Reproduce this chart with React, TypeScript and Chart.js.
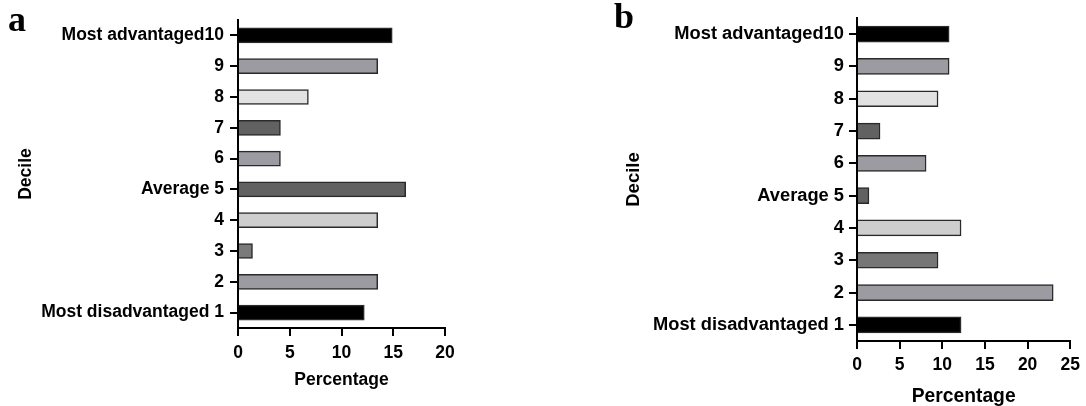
import React, { useEffect, useRef } from "react";
import { Chart, registerables } from "chart.js";

Chart.register(...registerables);

// Deciles, bottom (1) to top (10)
const deciles = [
  "Most disadvantaged 1",
  "2",
  "3",
  "4",
  "Average 5",
  "6",
  "7",
  "8",
  "9",
  "Most advantaged10",
];

const percentA = [12.2, 13.5, 1.4, 13.5, 16.2, 4.1, 4.1, 6.8, 13.5, 14.9];
const percentB = [12.2, 23.0, 9.5, 12.2, 1.4, 8.1, 2.7, 9.5, 10.8, 10.8];

const colorsA = ["#000000", "#9b9ba1", "#7a7a7a", "#cecece", "#616161", "#9b9ba1", "#616161", "#e2e2e2", "#9b9ba1", "#000000"];
const colorsB = ["#000000", "#9b9ba1", "#767676", "#cecece", "#616161", "#9b9ba1", "#616161", "#e2e2e2", "#9b9ba1", "#000000"];

const xMaxA = 20;
const xMaxB = 25;
const xStep = 5;

const FAMILY = "'Liberation Sans', Arial, Helvetica, sans-serif";

type PanelCfg = {
  values: number[];
  colors: string[];
  xMax: number;
  yWidth: number;
  xHeight: number;
  padTop: number;
  padRight: number;
  yTickSize: number;
  xTickSize: number;
  yTitleSize: number;
  yTitlePad: number;
  xTitleSize: number;
  xTitlePad: number;
  xTickPad: number;
  yTickPad: number;
  barThickness: number;
};

function Panel({ cfg, left, width }: { cfg: PanelCfg; left: number; width: number }) {
  const ref = useRef<HTMLCanvasElement | null>(null);
  useEffect(() => {
    if (!ref.current) return;
    const chart = new Chart(ref.current, {
      type: "bar",
      data: {
        labels: deciles,
        datasets: [
          {
            data: cfg.values,
            backgroundColor: cfg.colors,
            borderColor: "#2a2a2a",
            borderWidth: 1.5,
            barThickness: cfg.barThickness,
          },
        ],
      },
      options: {
        indexAxis: "y",
        responsive: false,
        animation: false,
        layout: { padding: { top: cfg.padTop, right: cfg.padRight, left: 0, bottom: 0 } },
        plugins: { legend: { display: false }, tooltip: { enabled: false } },
        scales: {
          y: {
            type: "category",
            reverse: true,
            offset: true,
            grid: {
              offset: false,
              drawOnChartArea: false,
              drawTicks: true,
              tickLength: 8,
              tickWidth: 2,
              tickColor: "#000",
              color: "#000",
              lineWidth: 2,
            },
            border: { display: true, color: "#000", width: 2 },
            ticks: {
              color: "#000",
              autoSkip: false,
              padding: cfg.yTickPad,
              font: { family: FAMILY, size: cfg.yTickSize, weight: "bold" },
            },
            title: {
              display: true,
              text: "Decile",
              color: "#000",
              font: { family: FAMILY, size: cfg.yTitleSize, weight: "bold" },
              padding: { top: cfg.yTitlePad, bottom: 0 },
            },
            afterFit: (s: any) => {
              s.width = cfg.yWidth;
            },
          },
          x: {
            type: "linear",
            min: 0,
            max: cfg.xMax,
            grid: {
              drawOnChartArea: false,
              drawTicks: true,
              tickLength: 8,
              tickWidth: 2,
              tickColor: "#000",
              color: "#000",
              lineWidth: 2,
            },
            border: { display: true, color: "#000", width: 2 },
            ticks: {
              stepSize: xStep,
              color: "#000",
              padding: cfg.xTickPad,
              font: { family: FAMILY, size: cfg.xTickSize, weight: "bold" },
            },
            title: {
              display: true,
              text: "Percentage",
              color: "#000",
              font: { family: FAMILY, size: cfg.xTitleSize, weight: "bold" },
              padding: { top: 0, bottom: cfg.xTitlePad },
            },
            afterFit: (s: any) => {
              s.height = cfg.xHeight;
            },
          },
        },
      } as any,
    });
    return () => chart.destroy();
  }, []);
  return (
    <canvas
      ref={ref}
      width={width}
      height={406}
      style={{ position: "absolute", left, top: 0, display: "block" }}
    />
  );
}

const cfgA: PanelCfg = {
  values: percentA,
  colors: colorsA,
  xMax: xMaxA,
  yWidth: 238,
  xHeight: 78,
  padTop: 20,
  padRight: 543 - 445,
  yTickSize: 17.5,
  xTickSize: 17.5,
  yTitleSize: 17.5,
  yTitlePad: 16,
  xTitleSize: 17.5,
  xTitlePad: 15,
  xTickPad: 7,
  yTickPad: 6,
  barThickness: 15,
};

const cfgB: PanelCfg = {
  values: percentB,
  colors: colorsB,
  xMax: xMaxB,
  yWidth: 857 - 543,
  xHeight: 65,
  padTop: 18,
  padRight: 1086 - 1073,
  yTickSize: 18.3,
  xTickSize: 17.5,
  yTitleSize: 18.5,
  yTitlePad: 80,
  xTitleSize: 19.3,
  xTitlePad: -2,
  xTickPad: 6,
  yTickPad: 5,
  barThickness: 16,
};

export default function App() {
  const letter: React.CSSProperties = {
    position: "absolute",
    fontFamily: "'Liberation Serif', 'Times New Roman', serif",
    fontWeight: "bold",
    fontSize: 36,
    lineHeight: "36px",
    color: "#000",
  };
  return (
    <div style={{ position: "absolute", left: 0, top: 0, width: 1086, height: 406, background: "#fff", overflow: "hidden" }}>
      <Panel cfg={cfgA} left={0} width={543} />
      <Panel cfg={cfgB} left={543} width={543} />
      <div style={{ ...letter, left: 8, top: 1 }}>a</div>
      <div style={{ ...letter, left: 614, top: -2 }}>b</div>
    </div>
  );
}
